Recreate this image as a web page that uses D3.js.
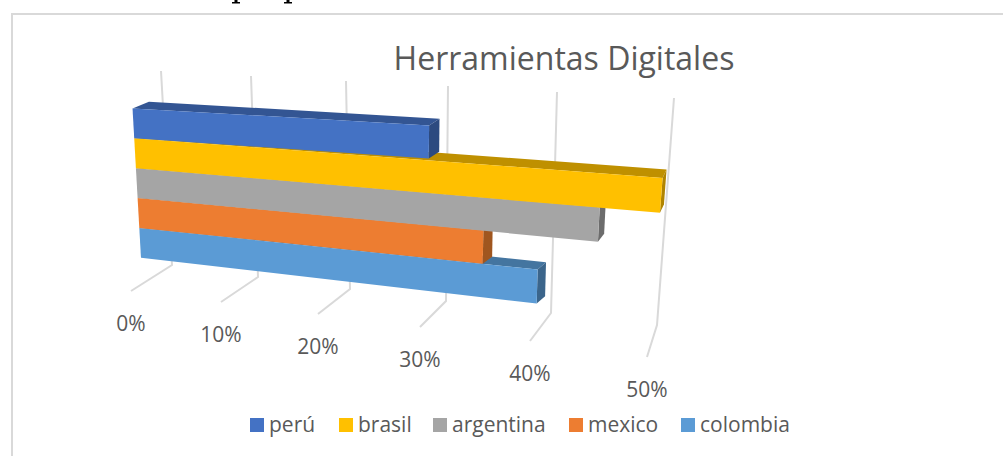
<!DOCTYPE html>
<html>
<head>
<meta charset="utf-8">
<script src="https://cdn.jsdelivr.net/npm/d3@7"></script>
<style>
html, body { margin: 0; padding: 0; background: #fff; overflow: hidden; }
svg { display: block; }
text { font-family: "Open Sans", sans-serif; fill: #595959; }
</style>
</head>
<body>
<svg width="1003" height="456"></svg>
<script>
const categories = ["perú", "brasil", "argentina", "mexico", "colombia"];
const values = [30, 50, 45, 35, 40];
const ticks = [0, 10, 20, 30, 40, 50];
const tickLabels = ["0%", "10%", "20%", "30%", "40%", "50%"];
const frontColors = ["#4472c4", "#ffc000", "#a5a5a5", "#ed7d31", "#5b9bd5"];
const topColors = ["#335593", "#bf9000", "#7c7c7c", "#b25e25", "#4475a0"];
const sideColors = ["#2c4a80", "#b08400", "#6c6c6c", "#a0561f", "#3b658b"];

const width = 1003;
const height = 456;

// the perspective of the 3D plot: where each tick lands on the three edges of wall and floor
const wallTopX = d3.scaleLinear().domain(ticks).range([161, 251, 346, 448, 557, 674]);
const wallTopY = d3.scaleLinear().domain(ticks).range([71, 76, 81, 86, 92, 98]);
const wallBaseX = d3.scaleLinear().domain(ticks).range([172, 258, 350, 446, 551, 657]);
const wallBaseY = d3.scaleLinear().domain(ticks).range([265, 277, 289, 301, 313, 325]);
const floorX = d3.scaleLinear().domain(ticks).range([131, 221, 318, 420, 530, 647]);
const floorY = d3.scaleLinear().domain(ticks).range([291, 302, 314, 327, 341, 357]);

// h: 0 floor, 1 top of wall. depthX/depthY: 0 wall, 1 front of floor
function project(v, h, depthX, depthY) {
    const x = wallBaseX(v) + (wallTopX(v) - wallBaseX(v)) * h + (floorX(v) - wallBaseX(v)) * depthX;
    const y = wallBaseY(v) + (wallTopY(v) - wallBaseY(v)) * h + (floorY(v) - wallBaseY(v)) * depthY;
    return [x, y];
}

const rowH = d3.scaleBand().domain(categories).range([0.905, 0.135]);
const front = [0.72, 0.73];
const back = [0.32, 0.47];

const svg = d3.select("svg");

// feet of the page heading that the crop left above the chart, nothing of it can be read
svg.append("g")
    .selectAll("path")
    .data([236, 288])
    .join("path")
    .attr("d", d => `M${d - 1.5},0h3v2h2.5v1.5h-8v-1.5h2.5Z`)
    .attr("fill", "#000");

svg.append("rect")
    .attr("x", 12).attr("y", 14)
    .attr("width", 1100).attr("height", 600)
    .attr("fill", "#fff")
    .attr("stroke", "#d9d9d9")
    .attr("stroke-width", 2);

svg.append("text")
    .attr("x", 564).attr("y", 70)
    .attr("text-anchor", "middle")
    .attr("font-size", 32)
    .text("Herramientas Digitales");

const grid = d3.line();
svg.append("g")
    .selectAll("path")
    .data(ticks)
    .join("path")
    .attr("d", v => grid([project(v, 1, 0, 0), project(v, 0, 0, 0), project(v, 0, 1, 1)]))
    .attr("fill", "none")
    .attr("stroke", "#d9d9d9")
    .attr("stroke-width", 2);

svg.append("g")
    .selectAll("text")
    .data(ticks)
    .join("text")
    .attr("x", v => floorX(v))
    .attr("y", v => floorY(v) + 40)
    .attr("text-anchor", "middle")
    .attr("font-size", 21)
    .text((v, i) => tickLabels[i]);

// lower bars first, the upper ones cover their top faces
const order = d3.range(categories.length).reverse();
const bars = svg.append("g")
    .selectAll("g")
    .data(order)
    .join("g");

function face(points) { return d3.line()(points) + "Z"; }

bars.append("path")
    .attr("fill", i => topColors[i])
    .attr("d", i => {
        const h = rowH(categories[i]);
        const t = h + rowH.bandwidth();
        return face([project(0, t, ...front), project(0, t, ...back), project(values[i], t, ...back), project(values[i], t, ...front)]);
    });

bars.append("path")
    .attr("fill", i => sideColors[i])
    .attr("d", i => {
        const h = rowH(categories[i]);
        const t = h + rowH.bandwidth();
        return face([project(values[i], t, ...front), project(values[i], t, ...back), project(values[i], h, ...back), project(values[i], h, ...front)]);
    });

bars.append("path")
    .attr("fill", i => frontColors[i])
    .attr("d", i => {
        const h = rowH(categories[i]);
        const t = h + rowH.bandwidth();
        return face([project(0, t, ...front), project(values[i], t, ...front), project(values[i], h, ...front), project(0, h, ...front)]);
    });

// legend
const legendX = d3.scaleOrdinal().domain(categories).range([250, 339, 433, 569, 681]);
const legend = svg.append("g")
    .selectAll("g")
    .data(categories)
    .join("g")
    .attr("transform", d => `translate(${legendX(d)},418)`);

legend.append("rect")
    .attr("width", 14).attr("height", 14)
    .attr("fill", (d, i) => frontColors[i]);

legend.append("text")
    .attr("x", 19).attr("y", 14)
    .attr("font-size", 21)
    .text(d => d);
</script>
</body>
</html>
